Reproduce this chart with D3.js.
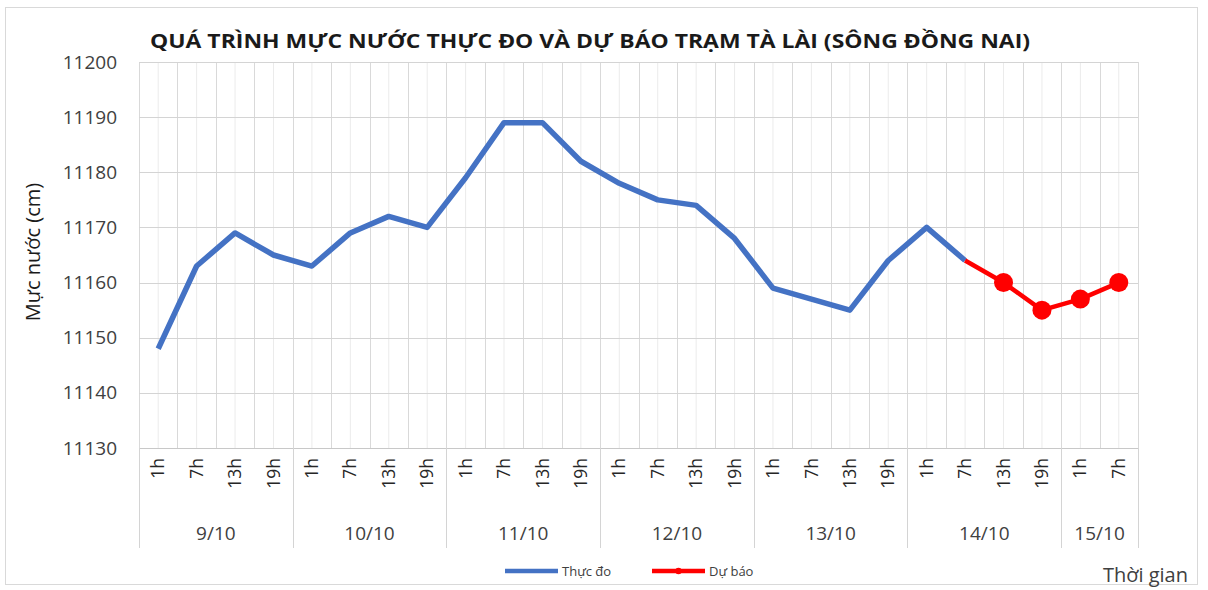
<!DOCTYPE html>
<html>
<head>
<meta charset="utf-8">
<script src="https://cdn.jsdelivr.net/npm/d3@7"></script>
<style>
  html, body { margin: 0; padding: 0; background: #fff; }
  svg { display: block; font-family: "Open Sans", "Noto Sans", sans-serif; }
</style>
</head>
<body>
<svg id="chart" width="1208" height="590"></svg>
<script>
// ---- Data ----
const days = ["9/10", "10/10", "11/10", "12/10", "13/10", "14/10", "15/10"];
const hoursPerDay = [4, 4, 4, 4, 4, 4, 2];
const hourLabels = ["1h", "7h", "13h", "19h", "1h", "7h", "13h", "19h", "1h", "7h", "13h", "19h",
  "1h", "7h", "13h", "19h", "1h", "7h", "13h", "19h", "1h", "7h", "13h", "19h", "1h", "7h"];
const observed = [11148, 11163, 11169, 11165, 11163, 11169, 11172, 11170,
  11179, 11189, 11189, 11182, 11178, 11175, 11174, 11168,
  11159, 11157, 11155, 11164, 11170, 11164, null, null, null, null];
const forecast = [null, null, null, null, null, null, null, null,
  null, null, null, null, null, null, null, null,
  null, null, null, null, null, 11164, 11160, 11155, 11157, 11160];
const yTicks = [11130, 11140, 11150, 11160, 11170, 11180, 11190, 11200];
const titleText = "QUÁ TRÌNH MỰC NƯỚC THỰC ĐO VÀ DỰ BÁO TRẠM TÀ LÀI (SÔNG ĐỒNG NAI)";
const yTitle = "Mực nước (cm)";
const xTitle = "Thời gian";
const seriesNames = ["Thực đo", "Dự báo"];

// ---- Layout ----
const svg = d3.select("#chart");
const plot = { left: 139, right: 1138, top: 62, bottom: 448 };
const blue = "#4472C4", red = "#FF0000";

// outer frame
svg.append("rect").attr("x", 5.5).attr("y", 7.5).attr("width", 1192).attr("height", 577)
  .attr("fill", "#fff").attr("stroke", "#d9d9d9").attr("stroke-width", 1);

const idx = d3.range(hourLabels.length);
const x = d3.scaleBand().domain(idx).range([plot.left, plot.right]).padding(0);
const y = d3.scaleLinear().domain([11130, 11200]).range([plot.bottom, plot.top]);
const bw = x.bandwidth();

// vertical gridlines: band edges and centers
const g = svg.append("g");
idx.forEach(i => {
  g.append("line").attr("x1", x(i) + bw / 2).attr("x2", x(i) + bw / 2)
    .attr("y1", plot.top).attr("y2", plot.bottom)
    .attr("stroke", "#ebebeb").attr("stroke-width", 1);
});
idx.concat([idx.length]).forEach(i => {
  const xx = Math.round(i < idx.length ? x(i) : plot.right) + 0.5;
  g.append("line").attr("x1", xx).attr("x2", xx)
    .attr("y1", plot.top).attr("y2", plot.bottom)
    .attr("stroke", "#d9d9d9").attr("stroke-width", 1);
});

// horizontal gridlines
yTicks.forEach(t => {
  g.append("line").attr("x1", plot.left).attr("x2", plot.right)
    .attr("y1", Math.round(y(t)) + 0.5).attr("y2", Math.round(y(t)) + 0.5)
    .attr("stroke", t === 11130 ? "#c8c8c8" : "#d4d4d4").attr("stroke-width", 1.2);
});

// y-axis tick labels
const yAxis = d3.axisLeft(y).tickValues(yTicks).tickSize(0).tickPadding(0).tickFormat(d3.format("d"));
const ya = svg.append("g").attr("transform", `translate(${plot.left - 22},0)`).call(yAxis);
ya.select(".domain").remove();
ya.selectAll("text").attr("font-size", 19).attr("fill", "#404040")
  .attr("font-family", "'Open Sans', sans-serif");

// x-axis hour labels (rotated)
const xAxis = d3.axisBottom(x).tickSize(0).tickFormat(i => hourLabels[i]);
const xa = svg.append("g").attr("transform", `translate(0,${plot.bottom})`).call(xAxis);
xa.select(".domain").remove();
xa.selectAll("text")
  .attr("transform", d => `translate(0,10) rotate(-90)`)
  .attr("x", 0).attr("y", 0).attr("dy", "0.35em")
  .attr("text-anchor", "end")
  .attr("font-size", 17.5).attr("fill", "#262626")
  .attr("font-family", "'Open Sans', sans-serif");

// day groups: separators and labels
let start = 0;
const sepBottom = 548;
svg.append("line").attr("x1", plot.left + 0.5).attr("x2", plot.left + 0.5)
  .attr("y1", plot.bottom).attr("y2", sepBottom).attr("stroke", "#d4d4d4");
days.forEach((d, k) => {
  const n = hoursPerDay[k];
  const x0 = x(start);
  const x1 = start + n < idx.length ? x(start + n) : plot.right;
  svg.append("line").attr("x1", Math.round(x1) + 0.5).attr("x2", Math.round(x1) + 0.5)
    .attr("y1", plot.bottom).attr("y2", sepBottom).attr("stroke", "#d4d4d4");
  svg.append("text").attr("x", (x0 + x1) / 2).attr("y", 540)
    .attr("text-anchor", "middle").attr("font-size", 19).attr("fill", "#404040")
    .text(d);
  start += n;
});

// lines
const line = d3.line()
  .defined(d => d != null)
  .x((d, i) => x(i) + bw / 2)
  .y(d => y(d));

svg.append("path").datum(observed).attr("d", line)
  .attr("fill", "none").attr("stroke", blue).attr("stroke-width", 5.5)
  .attr("stroke-linejoin", "round");

svg.append("path").datum(forecast).attr("d", line)
  .attr("fill", "none").attr("stroke", red).attr("stroke-width", 4.5)
  .attr("stroke-linejoin", "round");

const firstF = forecast.findIndex(v => v != null);
svg.append("g").selectAll("circle")
  .data(forecast.map((v, i) => ({ v, i })).filter(d => d.v != null && d.i > firstF))
  .join("circle")
  .attr("cx", d => x(d.i) + bw / 2).attr("cy", d => y(d.v))
  .attr("r", 9.5).attr("fill", red);

// title
svg.append("text").attr("x", 590).attr("y", 48).attr("text-anchor", "middle")
  .attr("font-size", 20).attr("font-weight", "bold").attr("fill", "#1a1a1a")
  .attr("textLength", 880).attr("lengthAdjust", "spacingAndGlyphs")
  .text(titleText);

// y title
svg.append("text").attr("transform", "translate(40,252) rotate(-90)")
  .attr("text-anchor", "middle").attr("font-size", 20).attr("fill", "#1a1a1a")
  .text(yTitle);

// x title
svg.append("text").attr("x", 1188).attr("y", 582).attr("text-anchor", "end")
  .attr("font-size", 20).attr("fill", "#404040").text(xTitle);

// legend
const leg = [{ name: seriesNames[0], c: blue, x: 505, m: false }, { name: seriesNames[1], c: red, x: 652, m: true }];
leg.forEach(l => {
  svg.append("line").attr("x1", l.x).attr("x2", l.x + 53).attr("y1", 571).attr("y2", 571)
    .attr("stroke", l.c).attr("stroke-width", 4.5);
  if (l.m) svg.append("circle").attr("cx", l.x + 26.5).attr("cy", 571).attr("r", 3.2).attr("fill", l.c);
  svg.append("text").attr("x", l.x + 57).attr("y", 576).attr("font-size", 13)
    .attr("fill", "#404040").text(l.name);
});
</script>
</body>
</html>
